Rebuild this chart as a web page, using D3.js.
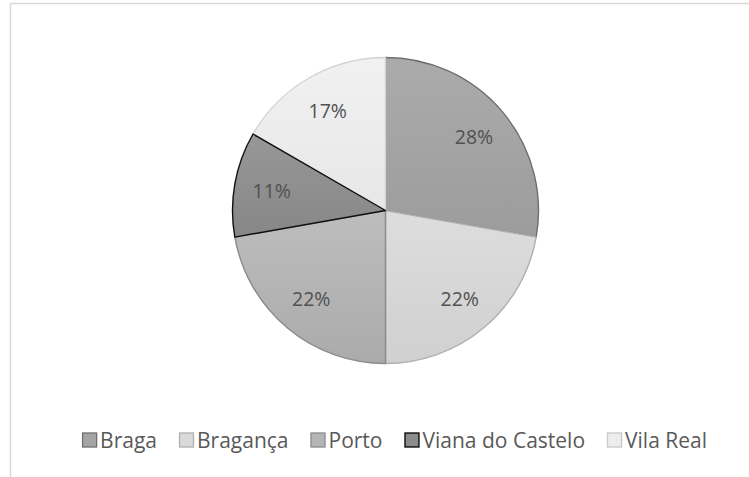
<!DOCTYPE html>
<html><head><meta charset="utf-8">
<script src="https://cdn.jsdelivr.net/npm/d3@7"></script>
<style>html,body{margin:0;padding:0;background:#fff;}svg{display:block;}</style>
</head><body>
<svg id="c" width="749" height="477"></svg>
<script>
const districts = ["Braga", "Bragança", "Porto", "Viana do Castelo", "Vila Real"];
const counts = [5, 4, 4, 2, 3];
const fillTop = ["#ababab", "#dddddd", "#bdbdbd", "#979797", "#f1f1f1"];
const fillBottom = ["#9c9c9c", "#d0d0d0", "#ababab", "#878787", "#e7e7e7"];
const strokes = ["#6e6e6e", "#b0b0b0", "#8a8a8a", "#111111", "#d4d4d4"];

const svg = d3.select("#c");
const cx = 385.5, cy = 210.5, R = 153;

// chart frame (cropped)
svg.append("path")
  .attr("d", `M10.5,477 L10.5,3.5 L749,3.5`)
  .attr("fill", "none").attr("stroke", "#d9d9d9").attr("stroke-width", 1.5);

const defs = svg.append("defs");
districts.forEach((d, i) => {
  const g = defs.append("linearGradient").attr("id", "g" + i)
    .attr("x1", 0).attr("y1", 0).attr("x2", 0).attr("y2", 1);
  g.append("stop").attr("offset", "0%").attr("stop-color", fillTop[i]);
  g.append("stop").attr("offset", "100%").attr("stop-color", fillBottom[i]);
});

const total = d3.sum(counts);
const pie = d3.pie().sort(null).value(d => d)(counts);
const arc = d3.arc().innerRadius(0).outerRadius(R);
const labelArc = d3.arc().innerRadius(R * 0.755).outerRadius(R * 0.755);

const gp = svg.append("g").attr("transform", `translate(${cx},${cy})`);
const order = [0, 1, 2, 4, 3];
order.forEach(i => {
  gp.append("path").attr("d", arc(pie[i]))
    .attr("fill", `url(#g${i})`)
    .attr("stroke", strokes[i]).attr("stroke-width", 1.4)
    .attr("stroke-linejoin", "round");
});
pie.forEach((p, i) => {
  const [x, y] = labelArc.centroid(p);
  gp.append("text").attr("x", x).attr("y", y)
    .attr("text-anchor", "middle").attr("dominant-baseline", "central")
    .attr("font-family", "Open Sans, sans-serif").attr("font-size", 19.5)
    .attr("fill", "#505050")
    .text(Math.round(counts[i] / total * 100) + "%");
});

// legend
const legFill = ["#a5a5a5", "#d9d9d9", "#b5b5b5", "#8c8c8c", "#ededed"];
const legStroke = ["#6e6e6e", "#b0b0b0", "#8a8a8a", "#000000", "#c8c8c8"];
const lg = svg.append("g");
const fs = 21;
const ly = 440, xRight = 707, sq = 14, txtOff = 18, gap = 22;
const texts = districts.map(d => lg.append("text")
    .attr("dominant-baseline", "central")
    .attr("font-family", "Open Sans, sans-serif").attr("font-size", fs)
    .attr("fill", "#595959").text(d));
const widths = texts.map(t => t.node().getComputedTextLength());
const itemW = widths.map(w => txtOff + w);
let x = xRight - d3.sum(itemW) - gap * (districts.length - 1);
districts.forEach((d, i) => {
  lg.append("rect").attr("x", x + 0.5).attr("y", ly - sq / 2).attr("width", sq).attr("height", sq)
    .attr("fill", legFill[i]).attr("stroke", legStroke[i]).attr("stroke-width", 1.3);
  texts[i].attr("x", x + txtOff).attr("y", ly);
  x += itemW[i] + gap;
});
</script>
</body></html>
